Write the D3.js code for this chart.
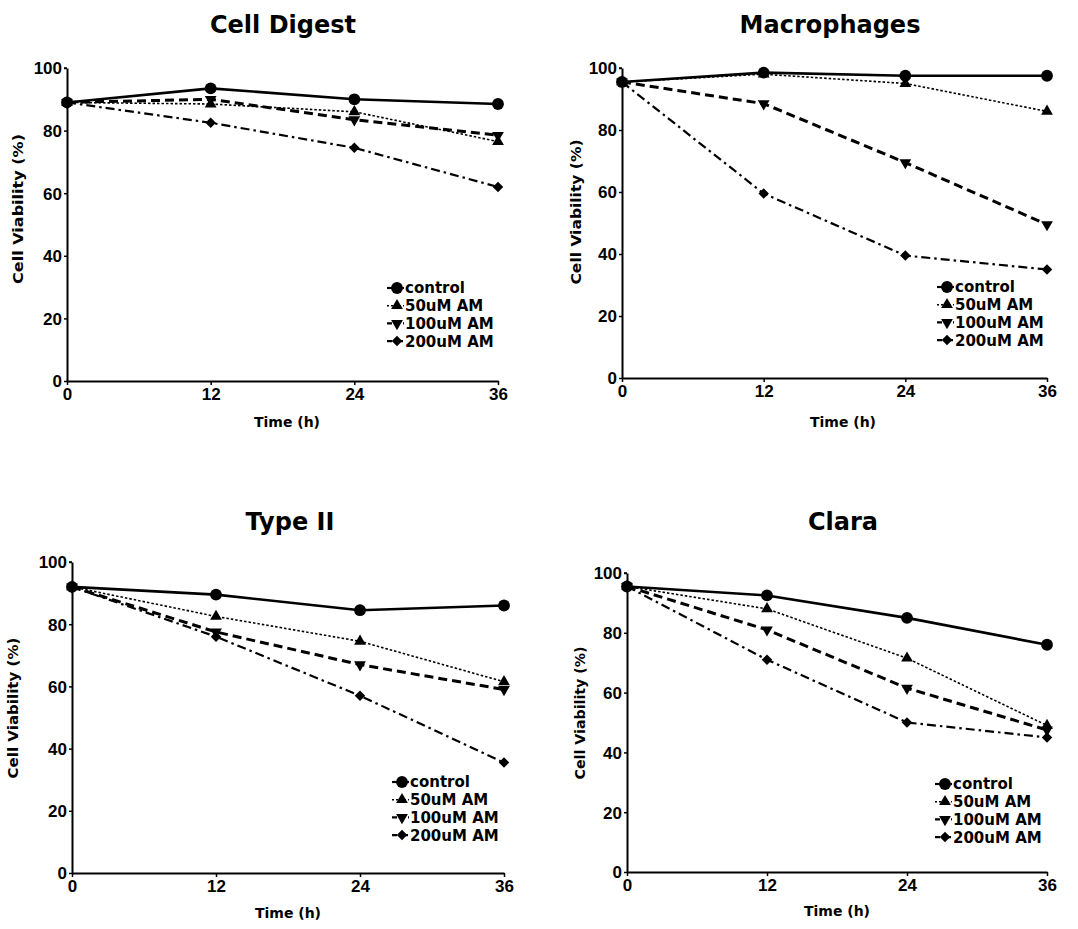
<!DOCTYPE html>
<html>
<head>
<meta charset="utf-8">
<script src="https://cdn.jsdelivr.net/npm/d3@7"></script>
<style>
  html, body { margin: 0; padding: 0; background: #fff; }
  svg { display: block; }
</style>
</head>
<body>
<svg id="chart" width="1078" height="929"></svg>
<script>
// ---------- DATA ----------
const times = [0, 12, 24, 36];
const xTickValues = [0, 12, 24, 36];
const yTickValues = [0, 20, 40, 60, 80, 100];
const seriesNames = ["control", "50uM AM", "100uM AM", "200uM AM"];
const panelTitles = ["Cell Digest", "Macrophages", "Type II", "Clara"];

const cellDigestControl = [89, 93.5, 90, 88.5];
const cellDigest50 = [89, 88.5, 86, 76.5];
const cellDigest100 = [89, 90, 83.5, 78.5];
const cellDigest200 = [89, 82.5, 74.5, 62];

const macrophagesControl = [95.5, 98.5, 97.5, 97.5];
const macrophages50 = [95.5, 98, 95, 86];
const macrophages100 = [95.5, 88.5, 69.5, 49.5];
const macrophages200 = [95.5, 59.5, 39.5, 35];

const typeIIControl = [92, 89.5, 84.5, 86];
const typeII50 = [92, 82.5, 74.5, 61.5];
const typeII100 = [92, 77.5, 67, 59];
const typeII200 = [92, 76, 57, 35.5];

const claraControl = [95.5, 92.5, 85, 76];
const clara50 = [95.5, 88, 71.5, 49];
const clara100 = [95.5, 81, 61.5, 47.5];
const clara200 = [95.5, 71, 50, 45];

const panelSeries = [
  [cellDigestControl, cellDigest50, cellDigest100, cellDigest200],
  [macrophagesControl, macrophages50, macrophages100, macrophages200],
  [typeIIControl, typeII50, typeII100, typeII200],
  [claraControl, clara50, clara100, clara200]
];

// ---------- LAYOUT ----------
const layouts = [
  { x0: 67,  x1: 498,  y0: 381, y1: 68,  titleX: 283, titleY: 33,  yTitleX: 18, yTitleY: 209, yTitleLen: 150, xTitleX: 287, xTitleY: 427, legX: 397, legY: 288 },
  { x0: 622, x1: 1047, y0: 378, y1: 68,  titleX: 830, titleY: 33,  yTitleX: 576, yTitleY: 212, yTitleLen: 145, xTitleX: 843, xTitleY: 427, legX: 947, legY: 287 },
  { x0: 72,  x1: 504,  y0: 873, y1: 562, titleX: 290, titleY: 530, yTitleX: 13, yTitleY: 708, yTitleLen: 141, xTitleX: 288, xTitleY: 918, legX: 402, legY: 782 },
  { x0: 627, x1: 1047, y0: 872, y1: 573, titleX: 843, titleY: 530, yTitleX: 580, yTitleY: 713, yTitleLen: 133, xTitleX: 837, xTitleY: 916, legX: 945, legY: 784 }
];

const seriesStyles = [
  { dash: null,        width: 2.6, symbol: d3.symbolCircle,   size: 110, rot: 0 },
  { dash: "2.5,2",     width: 1.6, symbol: d3.symbolTriangle, size: 60,  rot: 0 },
  { dash: "9,5",       width: 3.0, symbol: d3.symbolTriangle, size: 60,  rot: 180 },
  { dash: "9,4,2.5,4", width: 2.2, symbol: d3.symbolSquare,   size: 55,  rot: 45 }
];

const svg = d3.select("#chart");
const boldFont = "'DejaVu Sans', sans-serif";
const tickFont = "'Liberation Sans', Arial, sans-serif";

panelSeries.forEach((series, pi) => {
  const L = layouts[pi];
  const x = d3.scaleLinear().domain([0, 36]).range([L.x0, L.x1]);
  const y = d3.scaleLinear().domain([0, 100]).range([L.y0, L.y1]);
  const g = svg.append("g");

  // axes
  const yAxis = d3.axisLeft(y).tickValues(yTickValues).tickSize(3).tickSizeOuter(0).tickPadding(2);
  const xAxis = d3.axisBottom(x).tickValues(xTickValues).tickSize(4).tickSizeOuter(0).tickPadding(3);

  const gy = g.append("g").attr("transform", `translate(${L.x0},0)`).call(yAxis);
  const gx = g.append("g").attr("transform", `translate(0,${L.y0})`).call(xAxis);
  [gy, gx].forEach(a => {
    a.attr("font-size", null).attr("font-family", null);
    a.select(".domain").attr("stroke", "#000").attr("stroke-width", 2);
    a.selectAll(".tick line").attr("stroke", "#000").attr("stroke-width", 1.5);
    a.selectAll(".tick text")
      .attr("fill", "#000")
      .style("font-family", tickFont)
      .style("font-weight", "bold")
      .style("font-size", "17px");
  });
  gy.selectAll(".tick text").attr("dy", "0.35em");
  // small hook at top of y axis
  g.append("line")
    .attr("x1", L.x0 - 3).attr("x2", L.x0)
    .attr("y1", y(100)).attr("y2", y(100))
    .attr("stroke", "#000").attr("stroke-width", 1.5);

  // lines
  const line = d3.line().x((d, i) => x(times[i])).y(d => y(d));
  series.forEach((vals, si) => {
    const st = seriesStyles[si];
    g.append("path")
      .datum(vals)
      .attr("d", line)
      .attr("fill", "none")
      .attr("stroke", "#000")
      .attr("stroke-width", st.width)
      .attr("stroke-dasharray", st.dash);
  });
  // markers (draw after lines)
  series.forEach((vals, si) => {
    const st = seriesStyles[si];
    g.selectAll(null)
      .data(vals)
      .enter()
      .append("path")
      .attr("d", d3.symbol().type(st.symbol).size(st.size))
      .attr("transform", (d, i) => `translate(${x(times[i])},${y(d)}) rotate(${st.rot})`)
      .attr("fill", "#000");
  });

  // title
  g.append("text")
    .attr("x", L.titleX).attr("y", L.titleY)
    .attr("text-anchor", "middle")
    .style("font-family", boldFont).style("font-weight", "bold").style("font-size", "24px")
    .text(panelTitles[pi]);

  // y title
  g.append("text")
    .attr("transform", `translate(${L.yTitleX + 5},${L.yTitleY}) rotate(-90)`)
    .attr("text-anchor", "middle")
    .attr("textLength", L.yTitleLen)
    .attr("lengthAdjust", "spacingAndGlyphs")
    .style("font-family", boldFont).style("font-weight", "bold").style("font-size", "14.5px")
    .text("Cell Viability (%)");

  // x title
  g.append("text")
    .attr("x", L.xTitleX).attr("y", L.xTitleY)
    .attr("text-anchor", "middle")
    .style("font-family", boldFont).style("font-weight", "bold").style("font-size", "14px")
    .text("Time (h)");

  // legend
  const leg = g.append("g");
  seriesNames.forEach((name, si) => {
    const st = seriesStyles[si];
    const ly = L.legY + si * 17.7;
    leg.append("line")
      .attr("x1", L.legX - 10).attr("x2", L.legX + 7)
      .attr("y1", ly).attr("y2", ly)
      .attr("stroke", "#000")
      .attr("stroke-width", Math.min(st.width, 2.2))
      .attr("stroke-dasharray", st.dash ? (si === 1 ? "2,2" : si === 2 ? "5,3" : "5,2,2,2") : null);
    leg.append("path")
      .attr("d", d3.symbol().type(st.symbol).size(st.size))
      .attr("transform", `translate(${L.legX},${ly}) rotate(${st.rot})`)
      .attr("fill", "#000");
    leg.append("text")
      .attr("x", L.legX + 8).attr("y", ly)
      .attr("dy", "0.36em")
      .style("font-family", boldFont).style("font-weight", "bold").style("font-size", "15px")
      .text(name);
  });
});
</script>
</body>
</html>
